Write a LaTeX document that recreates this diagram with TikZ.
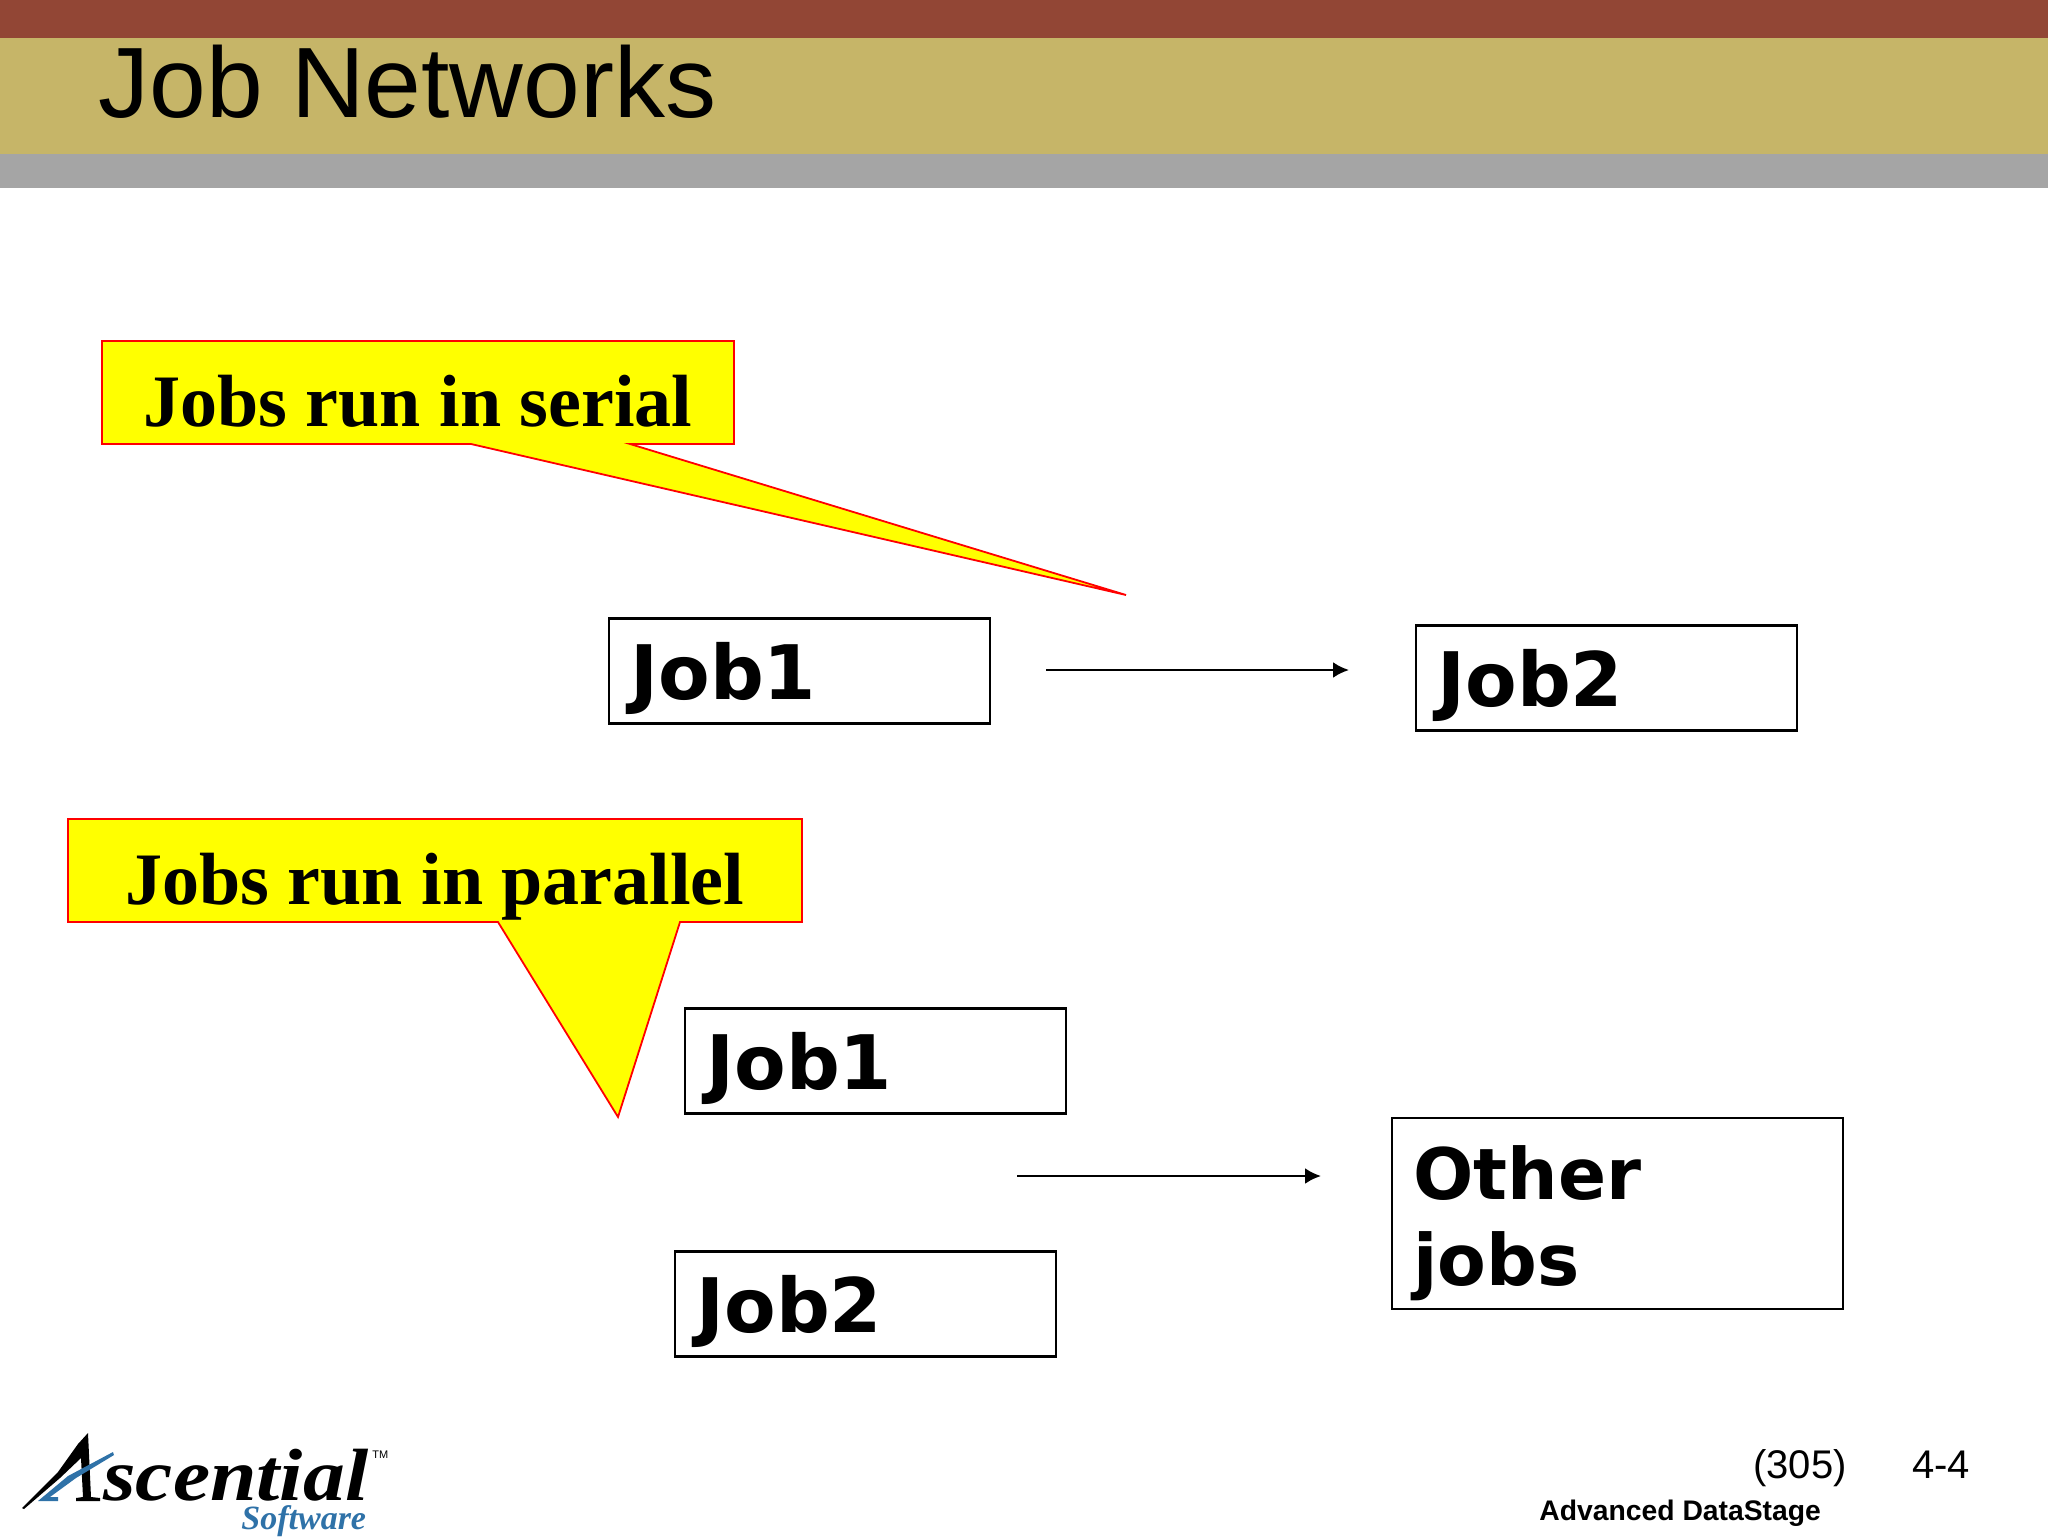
\documentclass[tikz,border=0pt]{standalone}
\usepackage{fontspec}
\setmainfont{Liberation Sans}
\newfontfamily\serifbf{Liberation Serif}
\newfontfamily\jobfont{DejaVu Sans}
\usetikzlibrary{arrows.meta}
\definecolor{brownbar}{HTML}{924635}
\definecolor{tanbar}{HTML}{C6B568}
\definecolor{graybar}{HTML}{A5A5A5}
\definecolor{logoblue}{HTML}{2F72A8}
\definecolor{callyellow}{RGB}{255,255,0}
\definecolor{callred}{RGB}{255,0,0}
\tikzset{
  x=0.5pt,y=-0.5pt,
  bar/.style={draw=none,fill=#1},
  callout/.style={draw=callred,fill=callyellow,line width=0.9pt,line join=miter},
  calltext/.style={anchor=base west,inner sep=0pt,font=\serifbf\bfseries\fontsize{37}{37}\selectfont},
  jobbox/.style={draw=black,fill=white,line width=1.05pt,minimum width=190pt,minimum height=52.5pt,inner sep=0pt},
  jobtext/.style={anchor=base west,inner sep=0pt,font=\jobfont\bfseries\fontsize{37.6}{37.6}\selectfont},
  othertext/.style={anchor=base west,inner sep=0pt,font=\jobfont\bfseries\fontsize{35.5}{35.5}\selectfont},
  flow/.style={draw=black,line width=1.3pt,-{Latex[length=8pt,width=8pt]}},
  foot/.style={anchor=base west,inner sep=0pt},
}
\begin{document}
\begin{tikzpicture}
\useasboundingbox (0,0) rectangle (2048,1536);
\fill[white] (0,0) rectangle (2048,1536);
\path[bar=brownbar] (0,0) rectangle (2048,38);
\path[bar=tanbar] (0,38) rectangle (2048,154);
\path[bar=graybar] (0,154) rectangle (2048,188);
\node[foot,xscale=1.02,font=\fontsize{50}{50}\selectfont] (title) at (98,118) {Job Networks};

% callouts
\path[callout] (102,341) -- (734,341) -- (734,444) -- (630,444) -- (1126,595) -- (471,444) -- (102,444) -- cycle;
\node[calltext] (serial) at (143,426) {Jobs run in serial};
\path[callout] (68,819) -- (802,819) -- (802,922) -- (680,922) -- (618,1117) -- (498,922) -- (68,922) -- cycle;
\node[calltext] (parallel) at (125,904) {Jobs run in parallel};

% job boxes
\node[jobbox,minimum width=190.5pt] (a1) at (799.5,671) {};
\node[jobbox,minimum width=190.5pt] (a2) at (1606.5,678) {};
\node[jobbox,minimum width=190.5pt] (b1) at (875.5,1061) {};
\node[jobbox,minimum width=190.5pt] (b2) at (865.5,1304) {};
\node[jobbox,minimum width=225.5pt,minimum height=95.5pt] (other) at (1617.5,1213.5) {};
\node[jobtext] (a1t) at (630,699) {Job1};
\node[jobtext] (a2t) at (1437,706) {Job2};
\node[jobtext] (b1t) at (706,1089) {Job1};
\node[jobtext] (b2t) at (696,1332) {Job2};
\node[othertext] (o1t) at (1413,1199) {Other};
\node[othertext] (o2t) at (1413,1285) {jobs};

% arrows
\coordinate (s1) at (1046,670); \coordinate (e1) at (1349,670);
\coordinate (s2) at (1017,1176); \coordinate (e2) at (1321,1176);
\draw[flow] (s1) -- (e1);
\draw[flow] (s2) -- (e2);

% logo
\fill[black] (22,1508) -- (58,1472) -- (78,1444) -- (88,1433) -- (91,1497) -- (100,1498) -- (100,1501) -- (76,1501) -- (76,1498) -- (83,1497) -- (81,1458) -- (60,1478) -- (24,1509) -- cycle;
\fill[logoblue] (38,1501) -- (68,1476) -- (113,1452) -- (114,1455) -- (76,1478) -- (50,1497) -- (58,1497) -- (58,1501) -- cycle;
\node[foot,xscale=1.13,font=\serifbf\bfseries\itshape\fontsize{37}{37}\selectfont] (logo) at (103,1500) {scential};
\node[foot,font=\fontsize{5.5}{5.5}\selectfont] (tm) at (372,1458) {TM};
\node[foot,text=logoblue,font=\serifbf\bfseries\itshape\fontsize{17}{17}\selectfont] (soft) at (241,1529) {Software};

% footer
\node[foot,font=\fontsize{20}{20}\selectfont] (num) at (1753,1478) {(305)};
\node[foot,font=\fontsize{20}{20}\selectfont] (page) at (1912,1478) {4-4};
\node[foot,font=\bfseries\fontsize{14.15}{14.15}\selectfont] (course) at (1539,1520) {Advanced DataStage};
\end{tikzpicture}
\end{document}
